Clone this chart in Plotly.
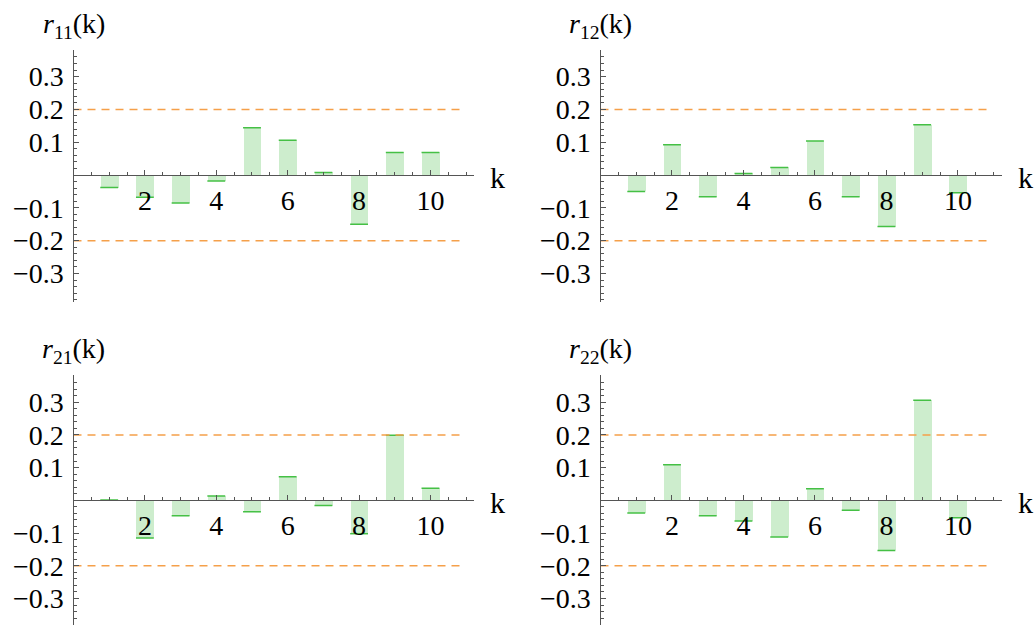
import plotly.graph_objects as go

k = [1, 2, 3, 4, 5, 6, 7, 8, 9, 10]
r11 = [-0.038, -0.068, -0.085, -0.018, 0.144, 0.106, 0.008, -0.150, 0.069, 0.069]
r12 = [-0.050, 0.092, -0.066, 0.005, 0.023, 0.104, -0.066, -0.157, 0.153, -0.054]
r21 = [0.001, -0.115, -0.047, 0.013, -0.035, 0.072, -0.016, -0.102, 0.199, 0.037]
r22 = [-0.039, 0.109, -0.047, -0.063, -0.112, 0.035, -0.030, -0.153, 0.306, -0.053]
titles = ["<i>r</i><sub>11</sub>(k)", "<i>r</i><sub>12</sub>(k)",
          "<i>r</i><sub>21</sub>(k)", "<i>r</i><sub>22</sub>(k)"]
series = [r11, r12, r21, r22]
bound = 0.2
ytickvals = [-0.3, -0.2, -0.1, 0.1, 0.2, 0.3]
yticktext = ["\u22120.3", "\u22120.2", "\u22120.1", "0.1", "0.2", "0.3"]

W, H = 1035, 625
FONT = "Liberation Serif"
FILL = "#cdedcd"
LINE = "#45c045"
ORANGE = "#f5a04a"
AXC = "#555555"

# panel geometry (pixels)
xl = {0: (73.5, 474.0), 1: (600.5, 1001.5)}
yt = {0: (50.0, 301.7), 1: (375.0, 625.0)}
yr = {0: [-0.386, 0.381], 1: [-0.381, 0.383]}
xr = [0, 11.22]

fig = go.Figure()
for i, vals in enumerate(series):
    row, col = divmod(i, 2)
    n = i + 1
    xa = "x" if n == 1 else f"x{n}"
    ya = "y" if n == 1 else f"y{n}"
    fig.add_trace(go.Bar(x=k, y=vals, base=0, width=0.5, marker=dict(color=FILL, line=dict(width=0)),
                         xaxis=xa, yaxis=ya, showlegend=False))
    lx, ly = [], []
    for kk, v in zip(k, vals):
        lx += [kk - 0.25, kk + 0.25, None]
        ly += [v, v, None]
    fig.add_trace(go.Scatter(x=lx, y=ly, mode="lines", line=dict(color=LINE, width=1.5),
                             xaxis=xa, yaxis=ya, showlegend=False))
    for b in (bound, -bound):
        fig.add_trace(go.Scatter(x=[0, 10.9], y=[b, b], mode="lines",
                                 line=dict(color=ORANGE, width=1.5, dash="8px,6px"),
                                 xaxis=xa, yaxis=ya, showlegend=False))
    x0, x1 = xl[col]
    y0, y1 = yt[row]
    ydom = [1 - y1 / H, 1 - y0 / H]
    rng = yr[row]
    zero_px = y0 + rng[1] / (rng[1] - rng[0]) * (y1 - y0)
    xkey = "xaxis" if n == 1 else f"xaxis{n}"
    ykey = "yaxis" if n == 1 else f"yaxis{n}"
    fig.layout[xkey] = dict(domain=[x0 / W, x1 / W], range=xr, anchor="free", position=1 - zero_px / H,
                            showline=True, linecolor=AXC, linewidth=1.2, showgrid=False, zeroline=False,
                            tickmode="array", tickvals=[2, 4, 6, 8, 10], ticks="inside", ticklen=5,
                            tickcolor=AXC, tickwidth=1.2, ticklabelstandoff=0,
                            minor=dict(tickmode="linear", tick0=0, dtick=0.5, ticks="inside", ticklen=3,
                                       tickcolor=AXC, tickwidth=1),
                            tickfont=dict(family=FONT, size=28, color="#000"), fixedrange=True)
    fig.layout[ykey] = dict(domain=ydom, range=rng, anchor=xa, showline=True, linecolor=AXC, linewidth=1.2,
                            showgrid=False, zeroline=False, tickmode="array", tickvals=ytickvals,
                            ticktext=yticktext, ticks="inside", ticklen=5, tickcolor=AXC, tickwidth=1.2,
                            ticklabelstandoff=3,
                            minor=dict(tickmode="linear", tick0=0, dtick=0.02, ticks="inside", ticklen=3,
                                       tickcolor=AXC, tickwidth=1),
                            tickfont=dict(family=FONT, size=28, color="#000"), fixedrange=True)
    fig.add_annotation(text=titles[i], xref="paper", yref="paper", x=x0 / W, y=1 - (y0 - 25) / H,
                       xanchor="center", yanchor="middle", showarrow=False,
                       font=dict(family=FONT, size=28, color="#000"))
    fig.add_annotation(text="k", xref="paper", yref="paper", x=(x1 + 14) / W, y=1 - (zero_px + 2) / H,
                       xanchor="left", yanchor="middle", showarrow=False,
                       font=dict(family=FONT, size=30, color="#000"))

fig.update_layout(width=W, height=H, margin=dict(l=0, r=0, t=0, b=0), plot_bgcolor="white",
                  paper_bgcolor="white", bargap=0)
fig.write_html("out.html", config={"displayModeBar": False},
               post_script="document.body.style.margin='0';document.body.style.overflow='hidden';")
